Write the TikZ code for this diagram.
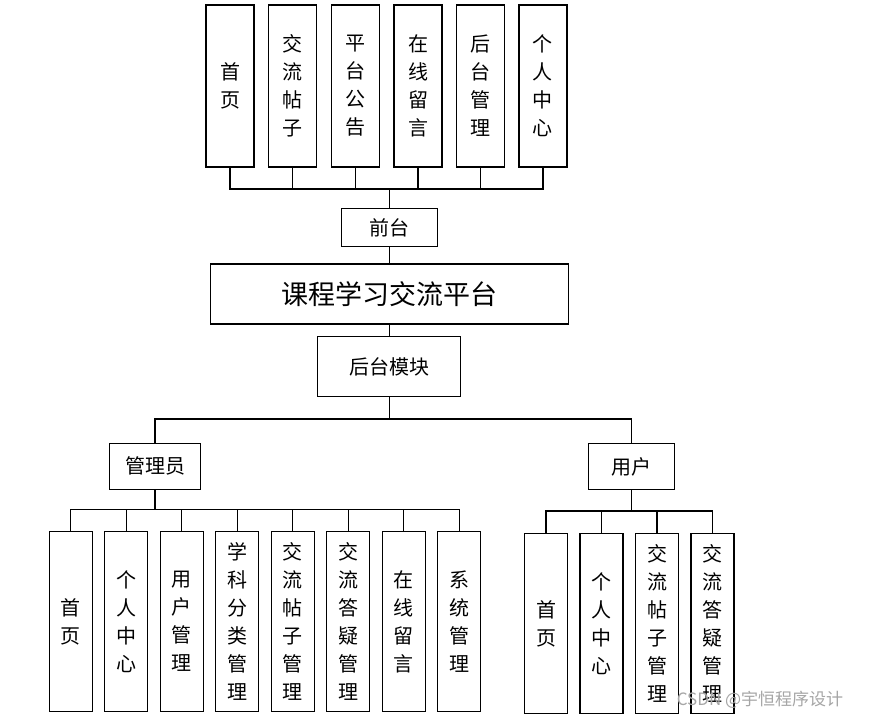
\documentclass[tikz,border=0pt]{standalone}
\usepackage{fontspec}
\newfontfamily\cjk{Noto Sans CJK SC}
\begin{document}
\begin{tikzpicture}[x=1pt,y=-1pt,
  box/.style={draw=black, line width=1.4pt, fill=white, inner sep=0pt, align=center,
    font=\cjk\fontsize{20}{28}\selectfont},
  vbox/.style={box, minimum width=48pt, minimum height=162pt},
  sbox/.style={box, minimum width=43pt, minimum height=180pt},
  link/.style={draw=black, line width=1.4pt}]
\useasboundingbox[fill=white] (0,0) rectangle (871,719);
% top
\node[vbox] (t1) at (230,86) {首\\页};
\node[vbox] (t2) at (292.7,86) {交\\流\\帖\\子};
\node[vbox] (t3) at (355.3,86) {平\\台\\公\\告};
\node[vbox] (t4) at (418,86) {在\\线\\留\\言};
\node[vbox] (t5) at (480.3,86) {后\\台\\管\\理};
\node[vbox] (t6) at (542.8,86) {个\\人\\中\\心};
\node[box, minimum width=96pt, minimum height=38pt] (qt) at (389.2,227.7) {前台};
\node[box, minimum width=358pt, minimum height=60pt, font=\cjk\fontsize{27}{30}\selectfont] (main) at (389.2,294) {课程学习交流平台};
\node[box, minimum width=143pt, minimum height=60pt] (hm) at (389.2,366.7) {后台模块};
\node[box, minimum width=91pt, minimum height=46pt] (gly) at (155,466.3) {管理员};
\node[box, minimum width=86pt, minimum height=46pt] (yh) at (631.2,466.5) {用户};
% admin children
\node[sbox] (a1) at (70.7,621.7) {首\\页};
\node[sbox] (a2) at (126.2,621.7) {个\\人\\中\\心};
\node[sbox] (a3) at (181.7,621.7) {用\\户\\管\\理};
\node[sbox] (a4) at (237.2,621.7) {学\\科\\分\\类\\管\\理};
\node[sbox] (a5) at (292.7,621.7) {交\\流\\帖\\子\\管\\理};
\node[sbox] (a6) at (348.2,621.7) {交\\流\\答\\疑\\管\\理};
\node[sbox] (a7) at (403.7,621.7) {在\\线\\留\\言};
\node[sbox] (a8) at (459.2,621.7) {系\\统\\管\\理};
% user children
\node[sbox] (u1) at (546,623.5) {首\\页};
\node[sbox] (u2) at (601.5,623.5) {个\\人\\中\\心};
\node[sbox] (u3) at (657,623.5) {交\\流\\帖\\子\\管\\理};
\node[sbox] (u4) at (712.5,623.5) {交\\流\\答\\疑\\管\\理};
% buses
\coordinate (tb) at (389.2,189);
\coordinate (mb) at (389.2,419);
\coordinate (ab) at (155,509.3);
\coordinate (ub) at (631.2,511);
\foreach \n in {t1,t2,t3,t4,t5,t6} \draw[link] (\n.south) |- (tb);
\draw[link] (tb) -- (qt.north);
\draw[link] (qt.south) -- (main.north);
\draw[link] (main.south) -- (hm.north);
\draw[link] (hm.south) -- (mb);
\draw[link] (mb) -| (gly.north);
\draw[link] (mb) -| (yh.north);
\draw[link] (gly.south) -- (ab);
\foreach \n in {a1,a2,a3,a4,a5,a6,a7,a8} \draw[link] (ab) -| (\n.north);
\draw[link] (yh.south) -- (ub);
\foreach \n in {u1,u2,u3,u4} \draw[link] (ub) -| (\n.north);
% watermark
\node[text=black!35, font=\cjk\fontsize{17}{20}\selectfont, inner sep=0pt] (wm) at (760,700) {CSDN @宇恒程序设计};
\end{tikzpicture}
\end{document}
